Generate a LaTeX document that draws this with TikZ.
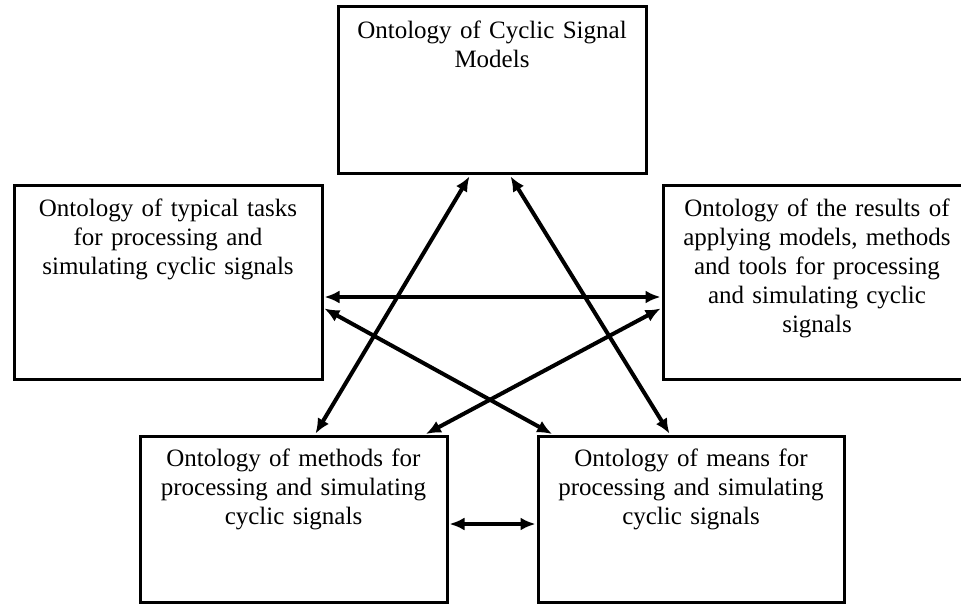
\documentclass[tikz,border=0pt]{standalone}
\usepackage{fontspec}
\setmainfont{Liberation Serif}
\usetikzlibrary{arrows.meta}
\tikzset{
  box/.style={draw=black, line width=3pt, rectangle, inner sep=0pt},
  boxtext/.style={anchor=base, align=center, inner sep=0pt, text width=300pt,
    font=\fontsize{25}{29}\selectfont},
  link/.style={line width=4pt, {Latex[length=15pt,width=13pt]}-{Latex[length=15pt,width=13pt]}, shorten <=1pt, shorten >=1pt}
}
\begin{document}
\begin{tikzpicture}[x=1pt,y=-1pt]
\useasboundingbox (0,0) rectangle (961,604);
\fill[white] (0,0) rectangle (961,604);
\node[box, minimum width=308pt, minimum height=167pt] (top) at (492,90.5) {};
\node[box, minimum width=308pt, minimum height=193pt] (left) at (168,282.5) {};
\node[box, minimum width=308pt, minimum height=193pt] (right) at (817,282.5) {};
\node[box, minimum width=307pt, minimum height=166pt] (bl) at (293.5,519) {};
\node[box, minimum width=306pt, minimum height=166pt] (br) at (691,519) {};
\node[boxtext] (toptext) at ([yshift=-33pt]top.north) {Ontology of Cyclic Signal\\Models};
\node[boxtext] (lefttext) at ([yshift=-32pt]left.north) {Ontology of typical tasks\\for processing and\\simulating cyclic signals};
\node[boxtext] (righttext) at ([yshift=-32pt]right.north) {Ontology of the results of\\applying models, methods\\and tools for processing\\and simulating cyclic\\signals};
\node[boxtext] (bltext) at ([yshift=-32pt]bl.north) {Ontology of methods for\\processing and simulating\\cyclic signals};
\node[boxtext] (brtext) at ([yshift=-32pt]br.north) {Ontology of means for\\processing and simulating\\cyclic signals};
\draw[link] ([yshift=-14.5pt]left.east) -- ([yshift=-14.5pt]right.west);
\draw[link] ([yshift=-25.5pt]right.west) -- ([xshift=131.5pt]bl.north);
\draw[link] ([yshift=-25.5pt]left.east) -- ([xshift=-138pt]br.north);
\draw[link] ([xshift=-22pt]top.south) -- ([xshift=21.5pt]bl.north);
\draw[link] ([xshift=18pt]top.south) -- ([xshift=-21pt]br.north);
\draw[link] ([yshift=-5pt]bl.east) -- ([yshift=-5pt]br.west);
\end{tikzpicture}
\end{document}
